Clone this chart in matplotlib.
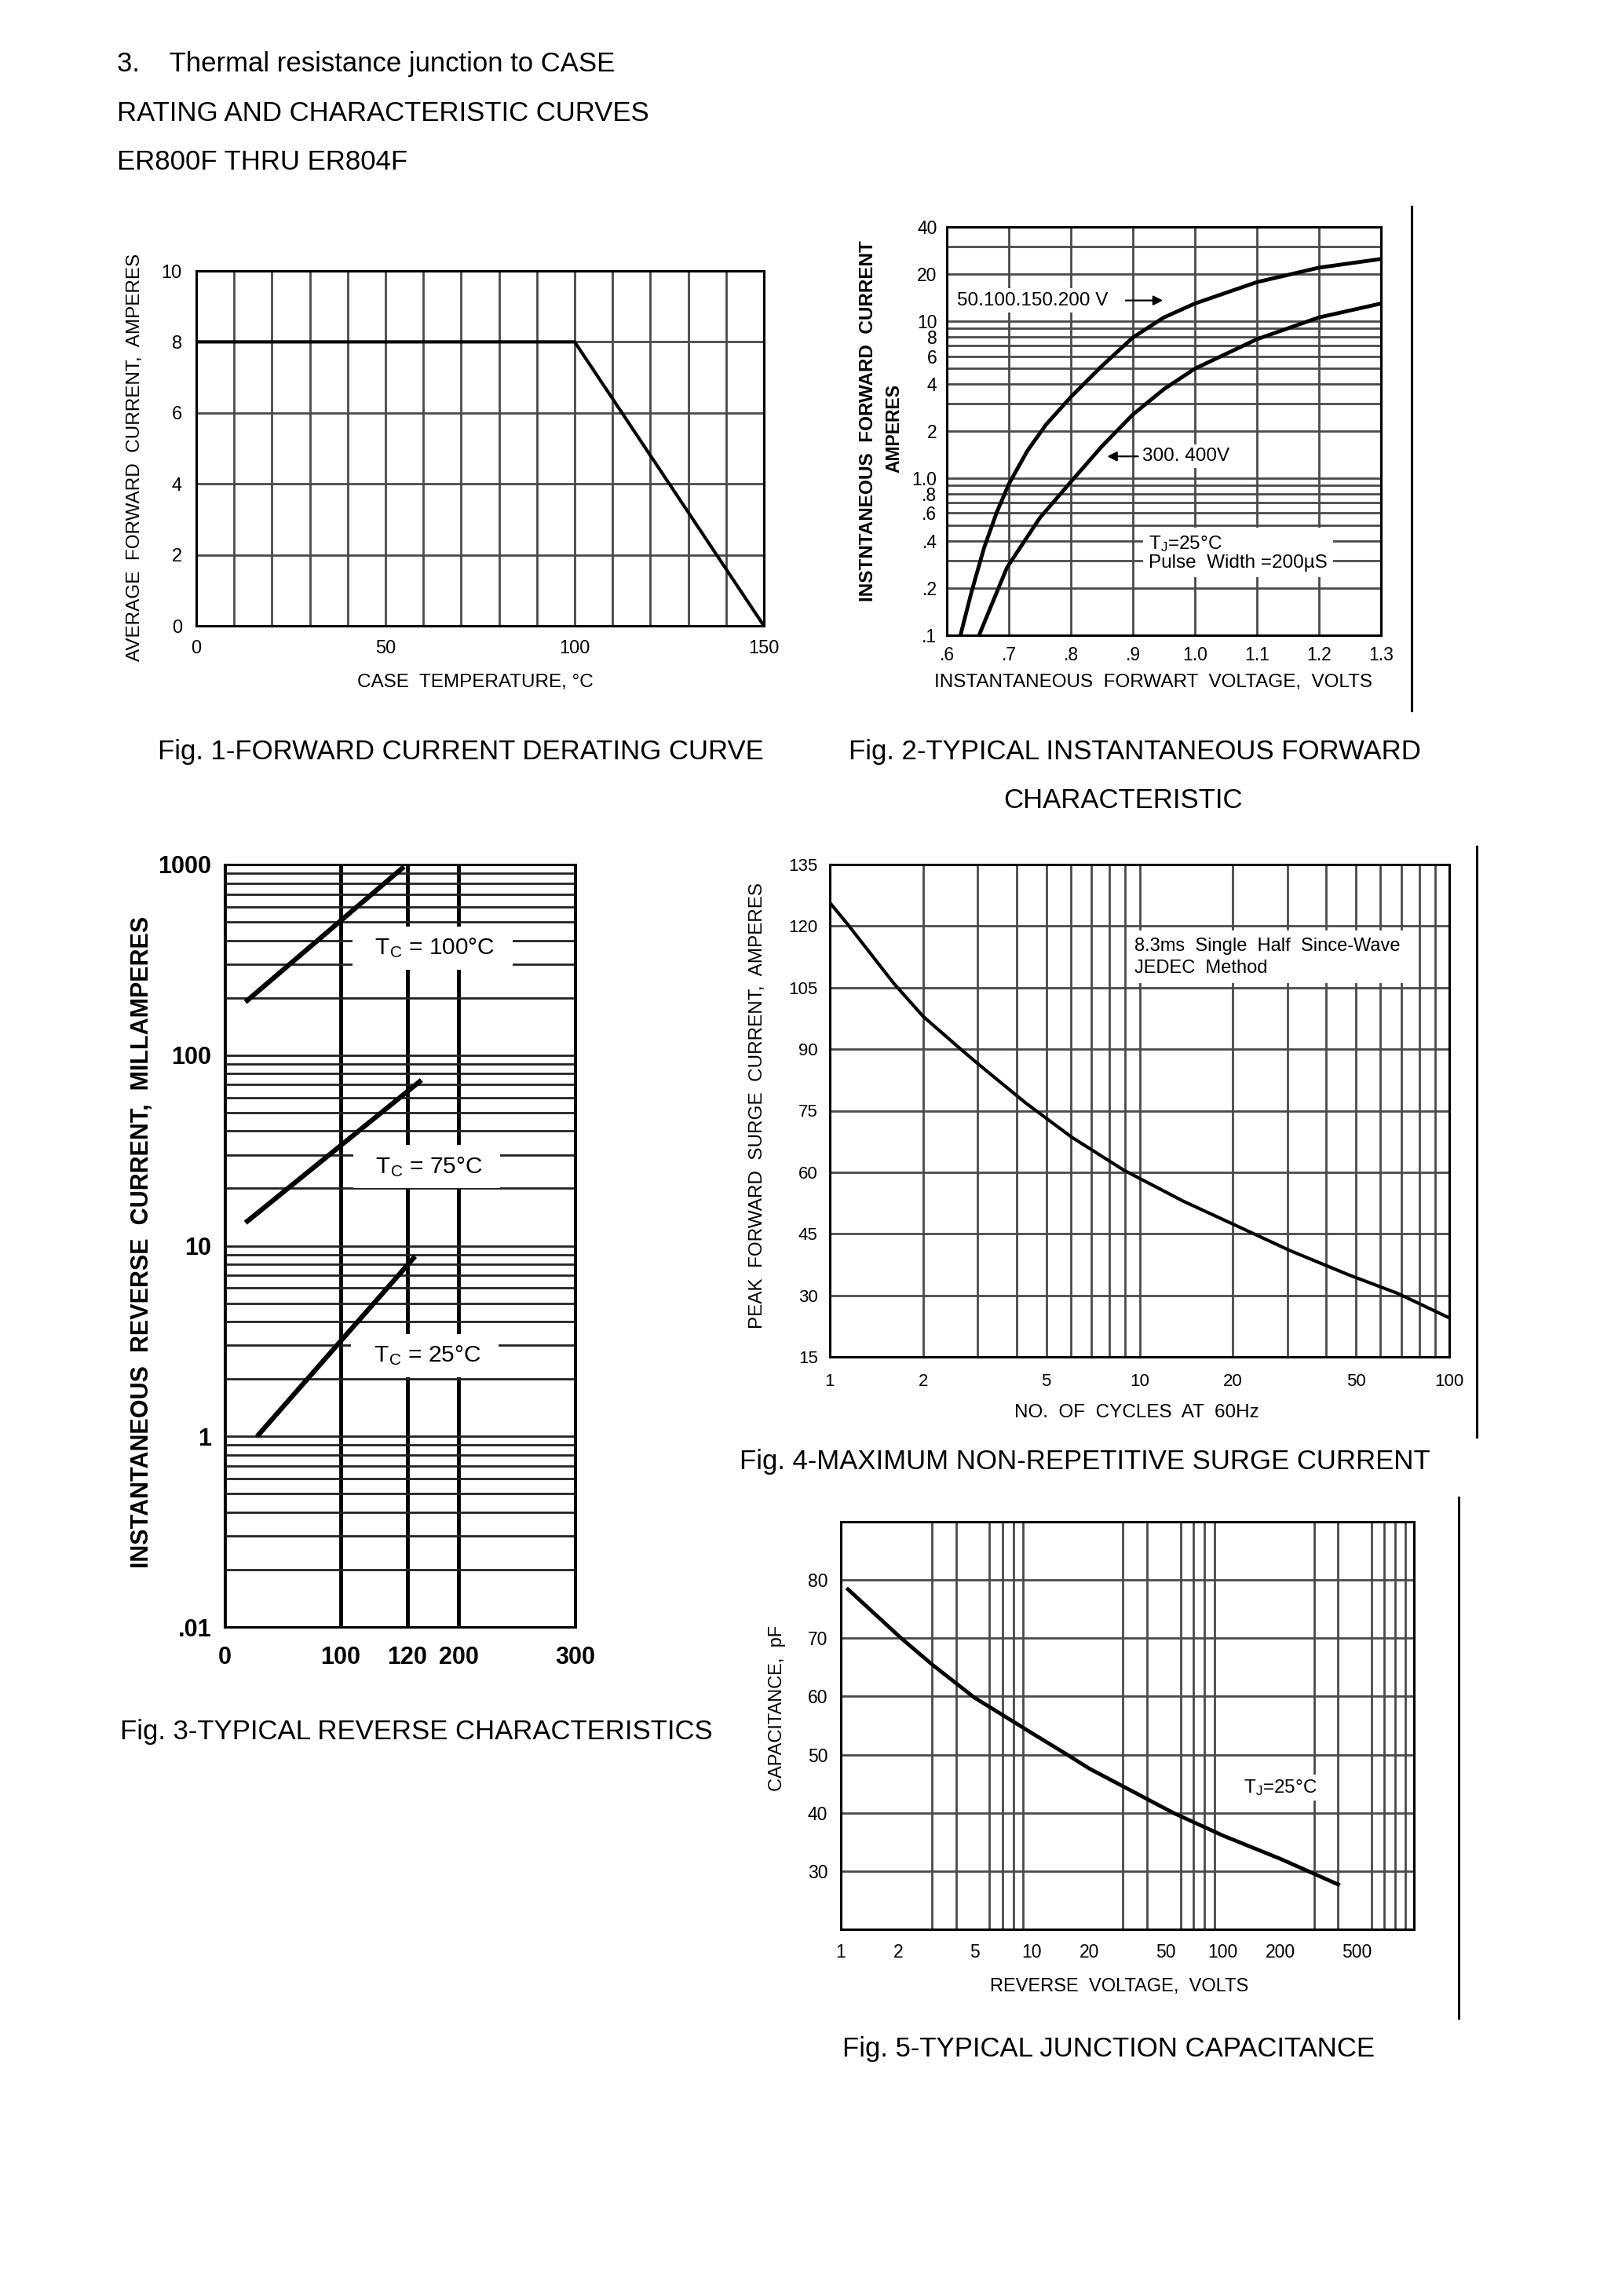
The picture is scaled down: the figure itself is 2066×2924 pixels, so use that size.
import matplotlib
matplotlib.use('Agg')
import matplotlib.pyplot as plt
import numpy as np
from matplotlib.ticker import FixedLocator, MultipleLocator, NullFormatter, FixedFormatter
from matplotlib.lines import Line2D

plt.rcParams['font.family'] = ['Liberation Sans', 'DejaVu Sans']
plt.rcParams['mathtext.fontset'] = 'custom'
plt.rcParams['mathtext.rm'] = 'Liberation Sans'
plt.rcParams['mathtext.it'] = 'Liberation Sans'
plt.rcParams['mathtext.bf'] = 'Liberation Sans:bold'
plt.rcParams['mathtext.default'] = 'regular'

# ---------------- data ----------------
# Fig 1 - derating
fig1_temp = [0, 100, 150]
fig1_current = [8, 8, 0]
fig1_xticks = [0, 50, 100, 150]
fig1_yticks = [0, 2, 4, 6, 8, 10]

# Fig 2 - forward characteristic
fig2_volt_a = [0.622, 0.64, 0.66, 0.68, 0.70, 0.73, 0.76, 0.80, 0.85, 0.90, 0.95, 1.0, 1.1, 1.2, 1.3]
fig2_amp_a = [0.1, 0.19, 0.36, 0.6, 0.92, 1.5, 2.2, 3.3, 5.2, 7.9, 10.6, 13, 17.8, 22, 25]
fig2_volt_b = [0.652, 0.676, 0.697, 0.75, 0.80, 0.85, 0.90, 0.95, 1.0, 1.1, 1.2, 1.3]
fig2_amp_b = [0.1, 0.17, 0.27, 0.56, 0.95, 1.6, 2.55, 3.7, 5.0, 7.7, 10.6, 13]
fig2_xticks = [0.6, 0.7, 0.8, 0.9, 1.0, 1.1, 1.2, 1.3]
fig2_xlabels = ['.6', '.7', '.8', '.9', '1.0', '1.1', '1.2', '1.3']
fig2_yticks = [0.1, 0.2, 0.4, 0.6, 0.8, 1, 2, 4, 6, 8, 10, 20, 40]
fig2_ylabels = ['.1', '.2', '.4', '.6', '.8', '1.0', '2', '4', '6', '8', '10', '20', '40']

# Fig 3 - reverse characteristic
fig3_x_100 = [18, 119]
fig3_ir_100 = [190, 975]
fig3_x_75 = [18, 142]
fig3_ir_75 = [13.2, 74]
fig3_x_25 = [28, 132]
fig3_ir_25 = [1.0, 8.8]
fig3_xticks = [0, 100, 120, 200, 300]
fig3_yticks = [0.1, 1, 10, 100, 1000]
fig3_ylabels = ['.01', '1', '10', '100', '1000']

# Fig 4 - surge current
fig4_cycles = [1, 1.14, 1.61, 2, 2.6, 3.0, 4.27, 6.05, 8.9, 13.8, 21.9, 30.4, 47.3, 68, 100]
fig4_surge = [125.7, 120.5, 106, 98, 90.5, 86.5, 77, 68.5, 60.5, 53, 46, 41, 35, 30.5, 24.5]
fig4_xticks = [1, 2, 5, 10, 20, 50, 100]
fig4_yticks = [15, 30, 45, 60, 75, 90, 105, 120, 135]

# Fig 5 - junction capacitance
fig5_volt = [1.09, 2.07, 3.0, 5.0, 10, 15.3, 20, 55, 100, 200, 401]
fig5_cap = [78.4, 70, 65.5, 59.8, 53.7, 50, 47.6, 40, 36.1, 32.1, 27.7]
fig5_xticks = [1, 2, 5, 10, 20, 50, 100, 200, 500]
fig5_yticks = [30, 40, 50, 60, 70, 80]

# ---------------- figure ----------------
W, H = 2066, 2924
fig = plt.figure(figsize=(W / 100, H / 100), dpi=100)
fig.patch.set_facecolor('white')

GRID = '#4a4a4a'
CAP_FS = 25


def add_ax(l, t, r, b):
    return fig.add_axes([l / W, 1 - b / H, (r - l) / W, (b - t) / H])


def style(ax, fs, pad_x, pad_y, bold=False):
    ax.tick_params(which='both', length=0, labelsize=fs)
    ax.tick_params(axis='x', pad=pad_x)
    ax.tick_params(axis='y', pad=pad_y)
    for s in ax.spines.values():
        s.set_linewidth(2.2)
        s.set_color('black')
    ax.set_axisbelow(True)
    if bold:
        for lab in ax.get_xticklabels() + ax.get_yticklabels():
            lab.set_fontweight('bold')


def label(ax, x, y, s, fs, rot=0, weight='normal'):
    ax.text(x, y, s, transform=ax.transAxes, rotation=rot, ha='center', va='center',
            fontsize=fs, fontweight=weight)


def vline_fig(x, y0, y1):
    fig.add_artist(Line2D([x / W, x / W], [1 - y0 / H, 1 - y1 / H],
                          transform=fig.transFigure, color='black', lw=2.2))


# header
hdr = dict(fontsize=CAP_FS, va='center', ha='left')
fig.text(149 / W, 1 - 82 / H, '3.    Thermal resistance junction to CASE', **hdr)
fig.text(149 / W, 1 - 145 / H, 'RATING AND CHARACTERISTIC CURVES', **hdr)
fig.text(149 / W, 1 - 207 / H, 'ER800F THRU ER804F', **hdr)

# ---------- Fig 1 ----------
ax1 = add_ax(250, 345, 973, 797)
ax1.plot(fig1_temp, fig1_current, color='black', lw=3)
ax1.set_xlim(0, 150)
ax1.set_ylim(0, 10)
ax1.set_xticks(fig1_xticks)
ax1.set_yticks(fig1_yticks)
ax1.xaxis.set_minor_locator(MultipleLocator(10))
ax1.grid(which='both', axis='x', color=GRID, lw=2)
ax1.grid(which='major', axis='y', color=GRID, lw=2)
style(ax1, 17, 13, 13)
label(ax1, -0.108, 0.475, 'AVERAGE  FORWARD  CURRENT,  AMPERES', 17.5, rot=90)
label(ax1, 0.492, -0.159, 'CASE  TEMPERATURE, °C', 17.5)
fig.text(587 / W, 1 - 957 / H, 'Fig. 1-FORWARD CURRENT DERATING CURVE', fontsize=CAP_FS,
         ha='center', va='center')

# ---------- Fig 2 ----------
ax2 = add_ax(1206, 289, 1759, 809)
ax2.set_yscale('log')
ax2.plot(fig2_volt_a, fig2_amp_a, color='black', lw=3.5)
ax2.plot(fig2_volt_b, fig2_amp_b, color='black', lw=3.5)
ax2.set_xlim(0.6, 1.3)
ax2.set_ylim(0.1, 40)
ax2.xaxis.set_major_locator(FixedLocator(fig2_xticks))
ax2.xaxis.set_major_formatter(FixedFormatter(fig2_xlabels))
ax2.yaxis.set_major_locator(FixedLocator(fig2_yticks))
ax2.yaxis.set_major_formatter(FixedFormatter(fig2_ylabels))
ax2.yaxis.set_minor_locator(FixedLocator([0.3, 0.5, 0.7, 0.9, 3, 5, 7, 9, 30]))
ax2.yaxis.set_minor_formatter(NullFormatter())
ax2.grid(which='both', color=GRID, lw=2)
style(ax2, 16.5, 10, 9)
label(ax2, -0.181, 0.525, 'INSTNTANEOUS  FORWARD  CURRENT', 17.5, rot=90, weight='bold')
label(ax2, -0.121, 0.506, 'AMPERES', 16.5, rot=90, weight='bold')
label(ax2, 0.476, -0.115, 'INSTANTANEOUS  FORWART  VOLTAGE,  VOLTS', 17.5)
wbox = dict(facecolor='white', edgecolor='none', pad=3)
ax2.text(0.617, 13.6, '50.100.150.200 V', fontsize=17.5, ha='left', va='center', bbox=wbox)
ax2.annotate('', xy=(0.952, 13.6), xytext=(0.885, 13.6),
             arrowprops=dict(arrowstyle='-|>', color='black', lw=1.6, mutation_scale=18))
ax2.annotate('', xy=(0.855, 1.38), xytext=(0.912, 1.38),
             arrowprops=dict(arrowstyle='-|>', color='black', lw=1.6, mutation_scale=18))
ax2.text(0.915, 1.38, '300. 400V', fontsize=17.5, ha='left', va='center', bbox=wbox)
ax2.text(0.925, 0.335, 'T$_{J}$=25°C\nPulse  Width =200µS', fontsize=17.5, ha='left',
         va='center', linespacing=1.1, bbox=dict(facecolor='white', edgecolor='none', pad=5))
vline_fig(1798, 263, 905)
fig.text(1445 / W, 1 - 957 / H, 'Fig. 2-TYPICAL INSTANTANEOUS FORWARD', fontsize=CAP_FS,
         ha='center', va='center')
fig.text(1430 / W, 1 - 1020 / H, 'CHARACTERISTIC', fontsize=CAP_FS, ha='center', va='center')

# ---------- Fig 3 ----------
ax3 = add_ax(286, 1101, 733, 2072)
x3_pos = [0.0, 0.331, 0.521, 0.667, 1.0]


def f3_fwd(x):
    return np.interp(x, fig3_xticks, x3_pos)


def f3_inv(p):
    return np.interp(p, x3_pos, fig3_xticks)


ax3.set_xscale('function', functions=(f3_fwd, f3_inv))
ax3.set_yscale('log')
ax3.set_xlim(0, 300)
ax3.set_ylim(0.1, 1000)
ax3.plot(fig3_x_100, fig3_ir_100, color='black', lw=4.5, solid_capstyle='butt')
ax3.plot(fig3_x_75, fig3_ir_75, color='black', lw=4.5, solid_capstyle='butt')
ax3.plot(fig3_x_25, fig3_ir_25, color='black', lw=4.5, solid_capstyle='butt')
ax3.xaxis.set_major_locator(FixedLocator(fig3_xticks))
ax3.xaxis.set_major_formatter(FixedFormatter([str(v) for v in fig3_xticks]))
ax3.xaxis.set_minor_locator(FixedLocator([]))
ax3.yaxis.set_major_locator(FixedLocator(fig3_yticks))
ax3.yaxis.set_major_formatter(FixedFormatter(fig3_ylabels))
ax3.yaxis.set_minor_locator(FixedLocator([m * d for d in [0.1, 1, 10, 100] for m in range(2, 10)]))
ax3.yaxis.set_minor_formatter(NullFormatter())
ax3.grid(which='major', axis='x', color='black', lw=3.5)
ax3.grid(which='both', axis='y', color='#222222', lw=2)
style(ax3, 22, 17, 12, bold=True)
label(ax3, -0.235, 0.505, 'INSTANTANEOUS  REVERSE  CURRENT,  MILLAMPERES', 22, rot=90, weight='bold')
tbox = dict(facecolor='white', edgecolor='none', pad=9)
ax3.text(159, 365, '  T$_{C}$ = 100°C  ', fontsize=21.5, ha='center', va='center', bbox=tbox)
ax3.text(150, 26, '  T$_{C}$ = 75°C  ', fontsize=21.5, ha='center', va='center', bbox=tbox)
ax3.text(147, 2.65, '  T$_{C}$ = 25°C  ', fontsize=21.5, ha='center', va='center', bbox=tbox)
fig.text(530 / W, 1 - 2206 / H, 'Fig. 3-TYPICAL REVERSE CHARACTERISTICS', fontsize=CAP_FS,
         ha='center', va='center')

# ---------- Fig 4 ----------
ax4 = add_ax(1057, 1101, 1846, 1728)
ax4.set_xscale('log')
ax4.plot(fig4_cycles, fig4_surge, color='black', lw=3)
ax4.set_xlim(1, 100)
ax4.set_ylim(15, 135)
ax4.xaxis.set_major_locator(FixedLocator(fig4_xticks))
ax4.xaxis.set_major_formatter(FixedFormatter([str(v) for v in fig4_xticks]))
ax4.xaxis.set_minor_locator(FixedLocator([m * d for d in [1, 10] for m in range(2, 10)]))
ax4.xaxis.set_minor_formatter(NullFormatter())
ax4.yaxis.set_major_locator(FixedLocator(fig4_yticks))
ax4.grid(which='both', axis='x', color=GRID, lw=2)
ax4.grid(which='major', axis='y', color=GRID, lw=2)
style(ax4, 16, 15, 11)
label(ax4, -0.117, 0.51, 'PEAK  FORWARD  SURGE  CURRENT,  AMPERES', 17.5, rot=90)
label(ax4, 0.495, -0.113, 'NO.  OF  CYCLES  AT  60Hz', 17.5)
ax4.text(9.6, 112.5, '8.3ms  Single  Half  Since-Wave\nJEDEC  Method', fontsize=17,
         ha='left', va='center', linespacing=1.35,
         bbox=dict(facecolor='white', edgecolor='none', pad=6))
vline_fig(1881, 1078, 1830)
fig.text(1382 / W, 1 - 1861 / H, 'Fig. 4-MAXIMUM NON-REPETITIVE SURGE CURRENT', fontsize=CAP_FS,
         ha='center', va='center')

# ---------- Fig 5 ----------
ax5 = add_ax(1071, 1938, 1801, 2457)
ax5.set_xscale('log')
ax5.plot(fig5_volt, fig5_cap, color='black', lw=3.5)
ax5.set_xlim(1, 1000)
ax5.set_ylim(20, 90)
ax5.xaxis.set_major_locator(FixedLocator(fig5_xticks))
ax5.xaxis.set_major_formatter(FixedFormatter([str(v) for v in fig5_xticks]))
ax5.xaxis.set_minor_locator(FixedLocator([m * d for d in [1, 10, 100] for m in range(1, 10)]))
ax5.xaxis.set_minor_formatter(NullFormatter())
ax5.yaxis.set_major_locator(FixedLocator(fig5_yticks))
ax5.grid(which='minor', axis='x', color=GRID, lw=2)
ax5.grid(which='major', axis='y', color=GRID, lw=2)
style(ax5, 16.5, 13, 12)
label(ax5, -0.111, 0.542, 'CAPACITANCE,  pF', 17, rot=90)
label(ax5, 0.486, -0.14, 'REVERSE  VOLTAGE,  VOLTS', 17)
ax5.text(128, 44.4, 'T$_{J}$=25°C', fontsize=17.5, ha='left', va='center',
         bbox=dict(facecolor='white', edgecolor='none', pad=3))
vline_fig(1858, 1907, 2570)
fig.text(1412 / W, 1 - 2610 / H, 'Fig. 5-TYPICAL JUNCTION CAPACITANCE', fontsize=CAP_FS,
         ha='center', va='center')

fig.savefig('out.png', dpi=100, facecolor='white')
